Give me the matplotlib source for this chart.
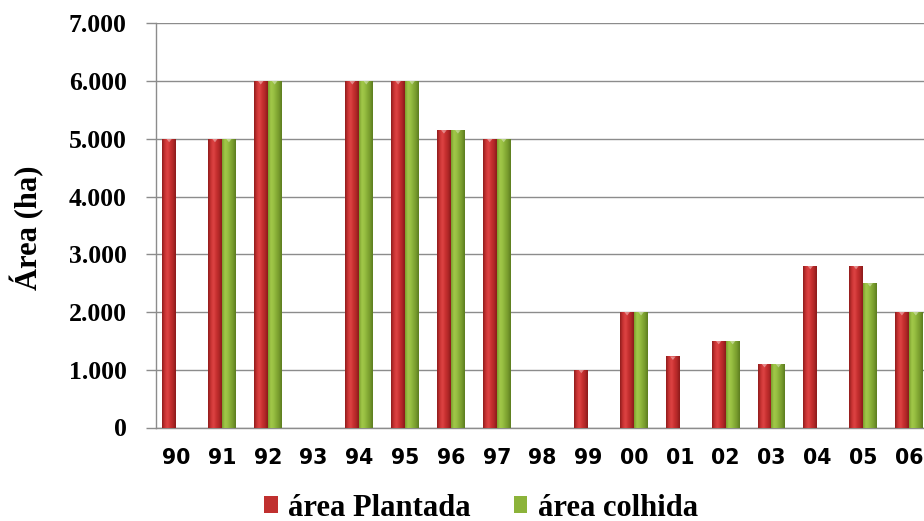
import numpy as np
import matplotlib

matplotlib.use("Agg")

import matplotlib.pyplot as plt
from matplotlib.colors import LinearSegmentedColormap
from matplotlib.patches import Patch
from matplotlib.ticker import FuncFormatter, MultipleLocator

nan = np.nan

anos = ["90", "91", "92", "93", "94", "95", "96", "97", "98",
        "99", "00", "01", "02", "03", "04", "05", "06"]
area_plantada = [5000, 5000, 6000, nan, 6000, 6000, 5150, 5000, nan,
                 1000, 2000, 1230, 1500, 1100, 2800, 2800, 2000]
area_colhida = [nan, 5000, 6000, nan, 6000, 6000, 5150, 5000, nan,
                nan, 2000, nan, 1500, 1100, nan, 2500, 2000]

serie_labels = ["área Plantada", "área colhida"]
serie_colors = ["#c0302f", "#8cb33a"]

# horizontal shading across each bar (dark edge -> highlight -> dark edge)
red_cmap = LinearSegmentedColormap.from_list(
    "red_bar", ["#8e1b1b", "#c93333", "#de4444", "#c83030", "#b02828", "#8a1a1a"])
green_cmap = LinearSegmentedColormap.from_list(
    "green_bar", ["#7a9e2c", "#a2c84a", "#99c043", "#86ad36", "#76992c", "#5c7c1f"])


def shade_bars(axis, bars, cmap):
    grad = np.linspace(0, 1, 64).reshape(1, -1)
    for bar in bars:
        h = bar.get_height()
        if not np.isfinite(h) or h <= 0:
            continue
        x0 = bar.get_x()
        w = bar.get_width()
        im = axis.imshow(grad, extent=(x0, x0 + w, 0, h),
                         cmap=cmap, aspect="auto", origin="lower",
                         interpolation="bicubic", zorder=3)
        im.set_clip_path(bar)
        # small light bevel at the top of the bar
        axis.fill([x0 + w * 0.3, x0 + w * 0.7, x0 + w * 0.5],
                  [h, h, h - 60], color="white", alpha=0.4,
                  linewidth=0, zorder=4)


fig = plt.figure(figsize=(9.24, 5.21), dpi=100)
ax = fig.add_axes([156 / 924, 1 - 427.5 / 521, 1 - 156 / 924, (427.5 - 23.3) / 521])

x = np.arange(len(anos))
width = 0.305
bars_p = ax.bar(x - width / 2, area_plantada, width, color=serie_colors[0],
                linewidth=0, zorder=2)
bars_c = ax.bar(x + width / 2, area_colhida, width, color=serie_colors[1],
                linewidth=0, zorder=2)
shade_bars(ax, bars_p, red_cmap)
shade_bars(ax, bars_c, green_cmap)

ax.set_xlim(-0.44, 16.33)
ax.set_ylim(0, 7000)
ax.yaxis.set_major_locator(MultipleLocator(1000))
ax.yaxis.set_major_formatter(FuncFormatter(lambda v, _: f"{int(v):,}".replace(",", ".")))
ax.set_xticks(x)
ax.set_xticklabels(anos)

ax.grid(axis="y", color="#8c8c8c", linewidth=1.0, zorder=0)
ax.set_axisbelow(True)
for side in ("top", "right"):
    ax.spines[side].set_visible(False)
for side in ("left", "bottom"):
    ax.spines[side].set_color("#8c8c8c")
    ax.spines[side].set_linewidth(1.0)

ax.tick_params(axis="y", length=7, width=1.0, color="#8c8c8c", pad=14)
ax.tick_params(axis="x", length=0, pad=15)
for lab in ax.get_yticklabels():
    lab.set_fontfamily("Liberation Serif")
    lab.set_fontweight("bold")
    lab.set_fontsize(18.5)
for lab in ax.get_xticklabels():
    lab.set_fontfamily("DejaVu Sans")
    lab.set_fontweight("bold")
    lab.set_fontsize(14.8)

fig.text(27 / 924, 1 - 228 / 521, "Área (ha)", rotation=90, ha="center",
         va="center", fontfamily="Liberation Serif", fontweight="bold", fontsize=22)

handles = [Patch(facecolor=c, edgecolor="none") for c in serie_colors]
fig.legend(handles, serie_labels, loc="center", bbox_to_anchor=(481 / 924, 1 - 508 / 521),
           ncol=2, frameon=False, handlelength=0.45, handleheight=0.45,
           handletextpad=0.35, columnspacing=1.4, borderpad=0,
           prop={"family": "Liberation Serif", "weight": "bold", "size": 22})

fig.savefig("out.png", dpi=100)
plt.close(fig)
